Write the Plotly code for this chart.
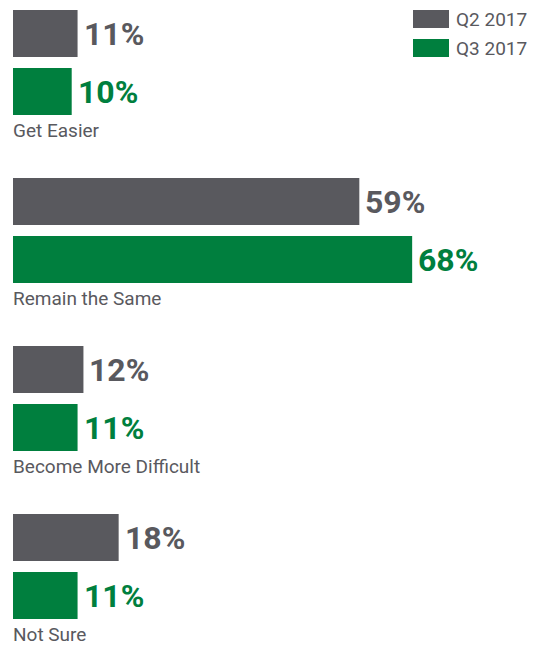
import plotly.graph_objects as go

categories = ["Get Easier", "Remain the Same", "Become More Difficult", "Not Sure"]
q2_values = [11, 59, 12, 18]
q3_values = [10, 68, 11, 11]
series_names = ["Q2 2017", "Q3 2017"]

GRAY = "#59595E"
GREEN = "#007F3E"
FONT = "Roboto"

W, H = 540, 645
LEFT = 13
PX_PER_PCT = 5.87
STEP = 168
TOP0 = 10
BAR_H = 47
GAP = 58

gray_y = [TOP0 + BAR_H / 2 + i * STEP for i in range(len(categories))]
green_y = [g + GAP for g in gray_y]
label_y = [g + BAR_H / 2 + 15 for g in green_y]

fig = go.Figure()
fig.add_trace(go.Bar(y=gray_y, x=q2_values, orientation="h", width=BAR_H,
                     marker=dict(color=GRAY, line=dict(width=0)), name=series_names[0],
                     showlegend=False, hoverinfo="skip"))
fig.add_trace(go.Bar(y=green_y, x=q3_values, orientation="h", width=BAR_H,
                     marker=dict(color=GREEN, line=dict(width=0)), name=series_names[1],
                     showlegend=False, hoverinfo="skip"))

ann = []
for v, y in zip(q2_values, gray_y):
    ann.append(dict(x=v, y=y, xref="x", yref="y", text=f"{v}%", showarrow=False,
                    xanchor="left", yanchor="middle", xshift=4,
                    font=dict(family=FONT, size=32, color=GRAY, weight="bold")))
for v, y in zip(q3_values, green_y):
    ann.append(dict(x=v, y=y, xref="x", yref="y", text=f"{v}%", showarrow=False,
                    xanchor="left", yanchor="middle", xshift=4,
                    font=dict(family=FONT, size=32, color=GREEN, weight="bold")))
for c, y in zip(categories, label_y):
    ann.append(dict(x=0, y=y, xref="x", yref="y", text=c, showarrow=False,
                    xanchor="left", yanchor="middle", xshift=-1, borderpad=0,
                    font=dict(family=FONT, size=19, color=GRAY)))

# manual legend
shapes = []
leg_x0 = (413 - LEFT) / (W - LEFT)
leg_x1 = (449 - LEFT) / (W - LEFT)
for i, (name, col) in enumerate(zip(series_names, [GRAY, GREEN])):
    y0 = 10 + i * 29
    shapes.append(dict(type="rect", xref="paper", yref="y", x0=leg_x0, x1=leg_x1,
                       y0=y0, y1=y0 + 18, fillcolor=col, line=dict(width=0)))
    ann.append(dict(x=leg_x1, y=y0 + 9, xref="paper", yref="y", text=name, showarrow=False,
                    xanchor="left", yanchor="middle", xshift=5,
                    font=dict(family=FONT, size=19, color=GRAY)))

fig.update_layout(
    width=W, height=H,
    margin=dict(l=LEFT, r=0, t=0, b=0),
    paper_bgcolor="white", plot_bgcolor="white",
    xaxis=dict(range=[0, (W - LEFT) / PX_PER_PCT], visible=False, fixedrange=True),
    yaxis=dict(range=[H, 0], visible=False, fixedrange=True),
    annotations=ann, shapes=shapes,
    barmode="overlay", showlegend=False,
)
fig.write_html("out.html", config={"displayModeBar": False},
               post_script="document.body.style.margin='0';document.body.style.overflow='hidden';")
